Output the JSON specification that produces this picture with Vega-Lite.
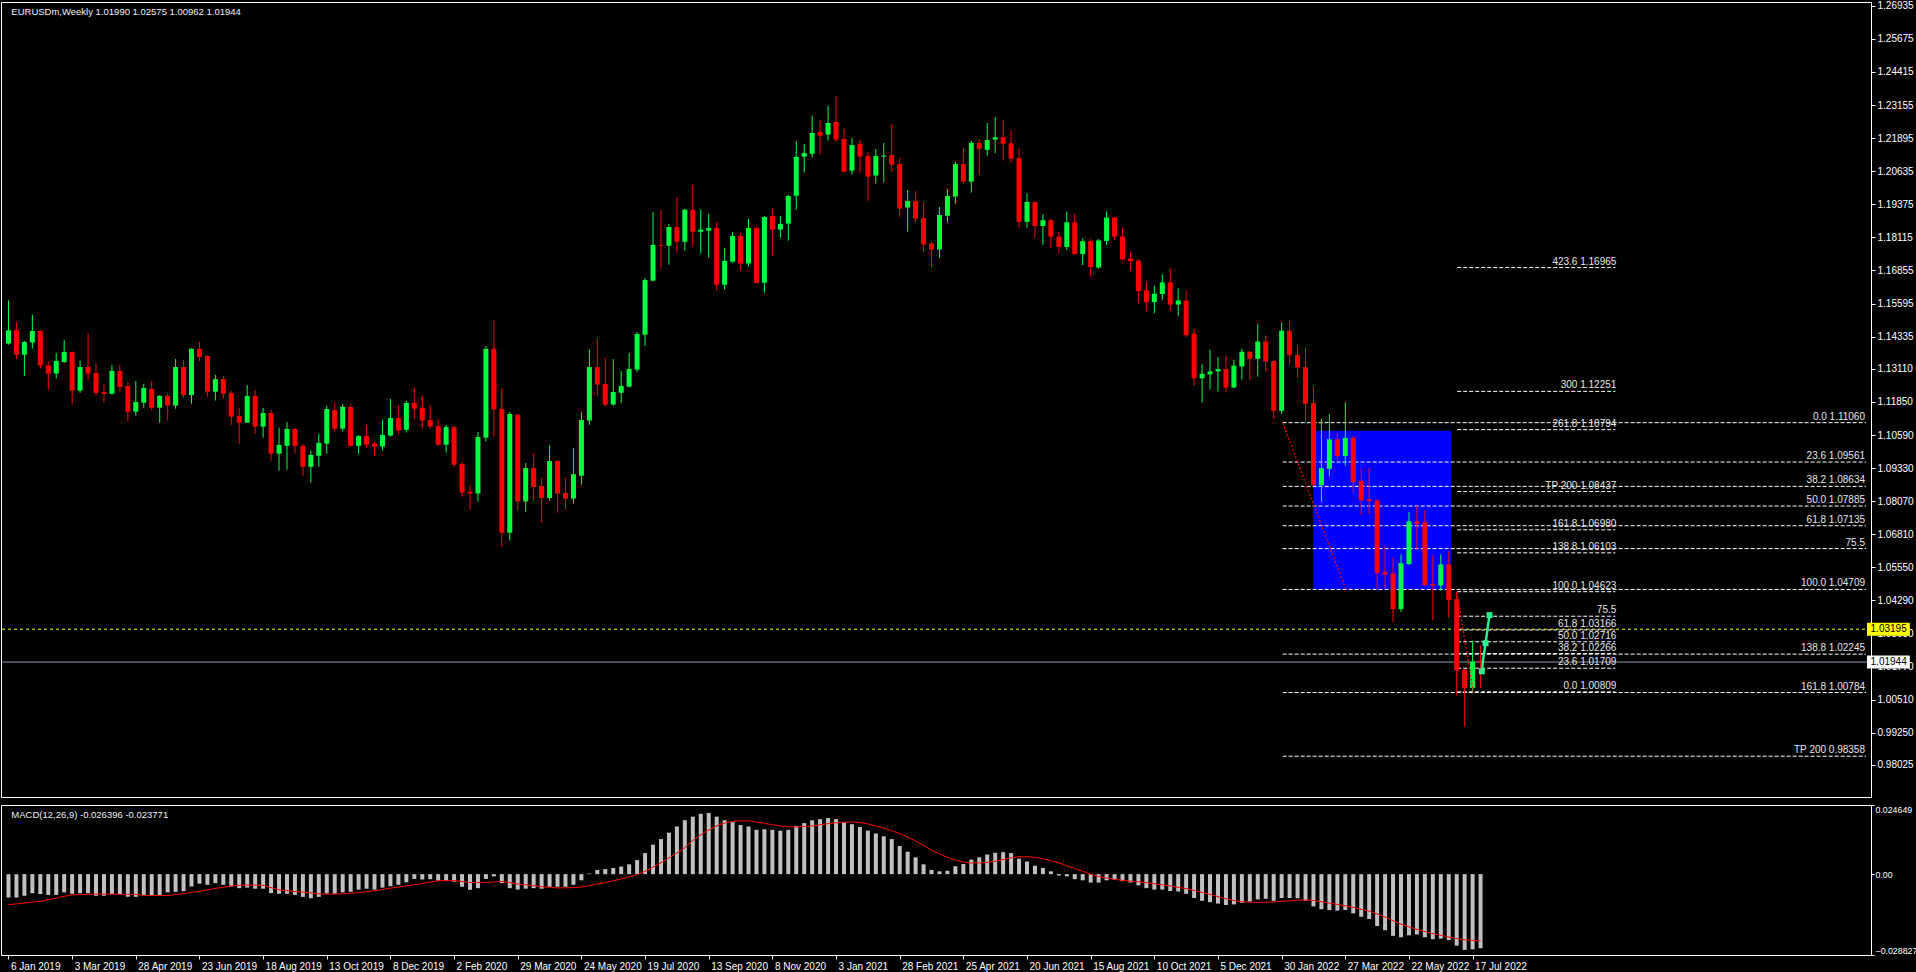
{
"$schema": "https://vega.github.io/schema/vega-lite/v6.json",
"background": "#000000",
"padding": 0,
"spacing": 6,
"datasets": {
"w": [
{"d":"2019-01-06","o":1.1407,"h":1.1572,"l":1.1403,"c":1.1458,"m":-0.0083,"s":-0.0109},
{"d":"2019-01-13","o":1.1458,"h":1.1489,"l":1.1350,"c":1.1365,"m":-0.0083,"s":-0.0106},
{"d":"2019-01-20","o":1.1365,"h":1.1417,"l":1.1284,"c":1.1413,"m":-0.0077,"s":-0.0103},
{"d":"2019-01-27","o":1.1411,"h":1.1517,"l":1.1388,"c":1.1455,"m":-0.0068,"s":-0.0100},
{"d":"2019-02-03","o":1.1455,"h":1.1458,"l":1.1312,"c":1.1324,"m":-0.0071,"s":-0.0097},
{"d":"2019-02-10","o":1.1324,"h":1.1341,"l":1.1232,"c":1.1293,"m":-0.0074,"s":-0.0091},
{"d":"2019-02-17","o":1.1293,"h":1.1371,"l":1.1274,"c":1.1341,"m":-0.0074,"s":-0.0085},
{"d":"2019-02-24","o":1.1337,"h":1.1420,"l":1.1333,"c":1.1375,"m":-0.0065,"s":-0.0079},
{"d":"2019-03-03","o":1.1375,"h":1.1378,"l":1.1175,"c":1.1228,"m":-0.0070,"s":-0.0074},
{"d":"2019-03-10","o":1.1228,"h":1.1343,"l":1.1220,"c":1.1318,"m":-0.0068,"s":-0.0073},
{"d":"2019-03-17","o":1.1318,"h":1.1447,"l":1.1270,"c":1.1293,"m":-0.0068,"s":-0.0072},
{"d":"2019-03-24","o":1.1295,"h":1.1333,"l":1.1209,"c":1.1220,"m":-0.0077,"s":-0.0071},
{"d":"2019-03-31","o":1.1223,"h":1.1253,"l":1.1182,"c":1.1216,"m":-0.0077,"s":-0.0071},
{"d":"2019-04-07","o":1.1216,"h":1.1326,"l":1.1213,"c":1.1303,"m":-0.0071,"s":-0.0071},
{"d":"2019-04-14","o":1.1303,"h":1.1326,"l":1.1224,"c":1.1242,"m":-0.0071,"s":-0.0072},
{"d":"2019-04-21","o":1.1246,"h":1.1261,"l":1.1110,"c":1.1148,"m":-0.0081,"s":-0.0072},
{"d":"2019-04-28","o":1.1148,"h":1.1265,"l":1.1133,"c":1.1185,"m":-0.0081,"s":-0.0072},
{"d":"2019-05-05","o":1.1182,"h":1.1253,"l":1.1163,"c":1.1238,"m":-0.0074,"s":-0.0076},
{"d":"2019-05-12","o":1.1234,"h":1.1265,"l":1.1152,"c":1.1163,"m":-0.0077,"s":-0.0076},
{"d":"2019-05-19","o":1.1163,"h":1.1211,"l":1.1106,"c":1.1208,"m":-0.0075,"s":-0.0076},
{"d":"2019-05-26","o":1.1208,"h":1.1215,"l":1.1114,"c":1.1171,"m":-0.0065,"s":-0.0076},
{"d":"2019-06-02","o":1.1171,"h":1.1348,"l":1.1159,"c":1.1318,"m":-0.0063,"s":-0.0073},
{"d":"2019-06-09","o":1.1318,"h":1.1345,"l":1.1201,"c":1.1211,"m":-0.0061,"s":-0.0070},
{"d":"2019-06-16","o":1.1211,"h":1.1390,"l":1.1178,"c":1.1387,"m":-0.0044,"s":-0.0065},
{"d":"2019-06-23","o":1.1387,"h":1.1413,"l":1.1341,"c":1.1356,"m":-0.0034,"s":-0.0061},
{"d":"2019-06-30","o":1.1360,"h":1.1364,"l":1.1205,"c":1.1224,"m":-0.0038,"s":-0.0056},
{"d":"2019-07-07","o":1.1224,"h":1.1288,"l":1.1190,"c":1.1272,"m":-0.0032,"s":-0.0051},
{"d":"2019-07-14","o":1.1272,"h":1.1284,"l":1.1197,"c":1.1216,"m":-0.0038,"s":-0.0047},
{"d":"2019-07-21","o":1.1219,"h":1.1227,"l":1.1098,"c":1.1129,"m":-0.0044,"s":-0.0042},
{"d":"2019-07-28","o":1.1131,"h":1.1162,"l":1.1026,"c":1.1106,"m":-0.0050,"s":-0.0040},
{"d":"2019-08-04","o":1.1106,"h":1.1249,"l":1.1105,"c":1.1208,"m":-0.0048,"s":-0.0039},
{"d":"2019-08-11","o":1.1208,"h":1.1230,"l":1.1064,"c":1.1091,"m":-0.0052,"s":-0.0039},
{"d":"2019-08-18","o":1.1091,"h":1.1162,"l":1.1049,"c":1.1143,"m":-0.0052,"s":-0.0040},
{"d":"2019-08-25","o":1.1143,"h":1.1154,"l":1.0961,"c":1.0988,"m":-0.0068,"s":-0.0048},
{"d":"2019-09-01","o":1.0988,"h":1.1087,"l":1.0923,"c":1.1021,"m":-0.0070,"s":-0.0056},
{"d":"2019-09-08","o":1.1018,"h":1.1109,"l":1.0927,"c":1.1082,"m":-0.0070,"s":-0.0059},
{"d":"2019-09-15","o":1.1082,"h":1.1087,"l":1.0988,"c":1.1018,"m":-0.0074,"s":-0.0062},
{"d":"2019-09-22","o":1.1018,"h":1.1025,"l":1.0904,"c":1.0938,"m":-0.0081,"s":-0.0064},
{"d":"2019-09-29","o":1.0938,"h":1.0999,"l":1.0878,"c":1.0983,"m":-0.0086,"s":-0.0067},
{"d":"2019-10-06","o":1.0980,"h":1.1063,"l":1.0938,"c":1.1029,"m":-0.0081,"s":-0.0070},
{"d":"2019-10-13","o":1.1026,"h":1.1170,"l":1.0988,"c":1.1158,"m":-0.0069,"s":-0.0071},
{"d":"2019-10-20","o":1.1154,"h":1.1181,"l":1.1072,"c":1.1083,"m":-0.0070,"s":-0.0071},
{"d":"2019-10-27","o":1.1083,"h":1.1177,"l":1.1072,"c":1.1166,"m":-0.0065,"s":-0.0070},
{"d":"2019-11-03","o":1.1166,"h":1.1177,"l":1.1015,"c":1.1018,"m":-0.0063,"s":-0.0068},
{"d":"2019-11-10","o":1.1018,"h":1.1059,"l":1.0988,"c":1.1055,"m":-0.0055,"s":-0.0066},
{"d":"2019-11-17","o":1.1055,"h":1.1097,"l":1.1011,"c":1.1022,"m":-0.0052,"s":-0.0063},
{"d":"2019-11-24","o":1.1026,"h":1.1034,"l":1.0980,"c":1.1015,"m":-0.0055,"s":-0.0059},
{"d":"2019-12-01","o":1.1015,"h":1.1116,"l":1.0999,"c":1.1059,"m":-0.0048,"s":-0.0055},
{"d":"2019-12-08","o":1.1057,"h":1.1196,"l":1.1053,"c":1.1124,"m":-0.0043,"s":-0.0050},
{"d":"2019-12-15","o":1.1124,"h":1.1173,"l":1.1064,"c":1.1076,"m":-0.0038,"s":-0.0046},
{"d":"2019-12-22","o":1.1079,"h":1.1189,"l":1.1068,"c":1.1181,"m":-0.0029,"s":-0.0042},
{"d":"2019-12-29","o":1.1181,"h":1.1238,"l":1.1121,"c":1.1159,"m":-0.0017,"s":-0.0038},
{"d":"2020-01-05","o":1.1162,"h":1.1208,"l":1.1083,"c":1.1114,"m":-0.0019,"s":-0.0033},
{"d":"2020-01-12","o":1.1116,"h":1.1173,"l":1.1083,"c":1.1091,"m":-0.0018,"s":-0.0028},
{"d":"2020-01-19","o":1.1093,"h":1.1120,"l":1.1018,"c":1.1022,"m":-0.0023,"s":-0.0024},
{"d":"2020-01-26","o":1.1022,"h":1.1097,"l":1.0992,"c":1.1089,"m":-0.0024,"s":-0.0023},
{"d":"2020-02-02","o":1.1089,"h":1.1092,"l":1.0938,"c":1.0946,"m":-0.0027,"s":-0.0023},
{"d":"2020-02-09","o":1.0949,"h":1.0956,"l":1.0824,"c":1.0840,"m":-0.0045,"s":-0.0026},
{"d":"2020-02-16","o":1.0843,"h":1.0866,"l":1.0775,"c":1.0836,"m":-0.0056,"s":-0.0030},
{"d":"2020-02-23","o":1.0836,"h":1.1070,"l":1.0805,"c":1.1051,"m":-0.0050,"s":-0.0030},
{"d":"2020-03-01","o":1.1049,"h":1.1398,"l":1.1034,"c":1.1387,"m":-0.0017,"s":-0.0030},
{"d":"2020-03-08","o":1.1387,"h":1.1497,"l":1.1053,"c":1.1156,"m":-0.0008,"s":-0.0028},
{"d":"2020-03-15","o":1.1159,"h":1.1238,"l":1.0633,"c":1.0687,"m":-0.0032,"s":-0.0026},
{"d":"2020-03-22","o":1.0687,"h":1.1147,"l":1.0657,"c":1.1139,"m":-0.0050,"s":-0.0030},
{"d":"2020-03-29","o":1.1136,"h":1.1140,"l":1.0771,"c":1.0806,"m":-0.0055,"s":-0.0035},
{"d":"2020-04-05","o":1.0806,"h":1.0952,"l":1.0766,"c":1.0933,"m":-0.0052,"s":-0.0038},
{"d":"2020-04-12","o":1.0933,"h":1.0990,"l":1.0809,"c":1.0861,"m":-0.0050,"s":-0.0041},
{"d":"2020-04-19","o":1.0865,"h":1.0895,"l":1.0725,"c":1.0819,"m":-0.0052,"s":-0.0045},
{"d":"2020-04-26","o":1.0819,"h":1.1021,"l":1.0809,"c":1.0960,"m":-0.0045,"s":-0.0047},
{"d":"2020-05-03","o":1.0960,"h":1.0963,"l":1.0763,"c":1.0836,"m":-0.0045,"s":-0.0049},
{"d":"2020-05-10","o":1.0838,"h":1.0895,"l":1.0775,"c":1.0817,"m":-0.0045,"s":-0.0049},
{"d":"2020-05-17","o":1.0817,"h":1.1010,"l":1.0798,"c":1.0910,"m":-0.0038,"s":-0.0048},
{"d":"2020-05-24","o":1.0904,"h":1.1147,"l":1.0870,"c":1.1116,"m":-0.0022,"s":-0.0046},
{"d":"2020-05-31","o":1.1114,"h":1.1384,"l":1.1098,"c":1.1318,"m":0.0002,"s":-0.0041},
{"d":"2020-06-07","o":1.1318,"h":1.1425,"l":1.1209,"c":1.1251,"m":0.0015,"s":-0.0035},
{"d":"2020-06-14","o":1.1253,"h":1.1352,"l":1.1167,"c":1.1175,"m":0.0018,"s":-0.0030},
{"d":"2020-06-21","o":1.1175,"h":1.1348,"l":1.1171,"c":1.1223,"m":0.0022,"s":-0.0024},
{"d":"2020-06-28","o":1.1220,"h":1.1303,"l":1.1182,"c":1.1246,"m":0.0027,"s":-0.0017},
{"d":"2020-07-05","o":1.1243,"h":1.1371,"l":1.1240,"c":1.1310,"m":0.0035,"s":-0.0010},
{"d":"2020-07-12","o":1.1308,"h":1.1451,"l":1.1299,"c":1.1444,"m":0.0050,"s":-0.0002},
{"d":"2020-07-19","o":1.1441,"h":1.1657,"l":1.1399,"c":1.1649,"m":0.0075,"s":0.0010},
{"d":"2020-07-26","o":1.1647,"h":1.1908,"l":1.1644,"c":1.1783,"m":0.0105,"s":0.0025},
{"d":"2020-08-02","o":1.1783,"h":1.1917,"l":1.1692,"c":1.1780,"m":0.0125,"s":0.0040},
{"d":"2020-08-09","o":1.1780,"h":1.1863,"l":1.1708,"c":1.1851,"m":0.0148,"s":0.0058},
{"d":"2020-08-16","o":1.1851,"h":1.1965,"l":1.1753,"c":1.1795,"m":0.0170,"s":0.0075},
{"d":"2020-08-23","o":1.1795,"h":1.1920,"l":1.1761,"c":1.1917,"m":0.0192,"s":0.0095},
{"d":"2020-08-30","o":1.1917,"h":1.2011,"l":1.1780,"c":1.1833,"m":0.0205,"s":0.0120},
{"d":"2020-09-06","o":1.1833,"h":1.1917,"l":1.1750,"c":1.1841,"m":0.0215,"s":0.0140},
{"d":"2020-09-13","o":1.1837,"h":1.1901,"l":1.1734,"c":1.1847,"m":0.0218,"s":0.0158},
{"d":"2020-09-20","o":1.1847,"h":1.1870,"l":1.1609,"c":1.1631,"m":0.0205,"s":0.0172},
{"d":"2020-09-27","o":1.1631,"h":1.1772,"l":1.1613,"c":1.1722,"m":0.0192,"s":0.0182},
{"d":"2020-10-04","o":1.1719,"h":1.1832,"l":1.1715,"c":1.1817,"m":0.0185,"s":0.0188},
{"d":"2020-10-11","o":1.1817,"h":1.1828,"l":1.1685,"c":1.1712,"m":0.0175,"s":0.0190},
{"d":"2020-10-18","o":1.1712,"h":1.1882,"l":1.1700,"c":1.1847,"m":0.0170,"s":0.0190},
{"d":"2020-10-25","o":1.1847,"h":1.1851,"l":1.1635,"c":1.1638,"m":0.0158,"s":0.0186},
{"d":"2020-11-01","o":1.1639,"h":1.1893,"l":1.1601,"c":1.1889,"m":0.0160,"s":0.0181},
{"d":"2020-11-08","o":1.1893,"h":1.1920,"l":1.1742,"c":1.1841,"m":0.0158,"s":0.0176},
{"d":"2020-11-15","o":1.1841,"h":1.1893,"l":1.1810,"c":1.1863,"m":0.0155,"s":0.0172},
{"d":"2020-11-22","o":1.1864,"h":1.1973,"l":1.1799,"c":1.1969,"m":0.0158,"s":0.0169},
{"d":"2020-11-29","o":1.1970,"h":1.2179,"l":1.1917,"c":1.2118,"m":0.0172,"s":0.0168},
{"d":"2020-12-06","o":1.2119,"h":1.2167,"l":1.2058,"c":1.2133,"m":0.0182,"s":0.0170},
{"d":"2020-12-13","o":1.2130,"h":1.2275,"l":1.2115,"c":1.2209,"m":0.0192,"s":0.0172},
{"d":"2020-12-20","o":1.2213,"h":1.2260,"l":1.2127,"c":1.2199,"m":0.0196,"s":0.0176},
{"d":"2020-12-27","o":1.2203,"h":1.2313,"l":1.2180,"c":1.2247,"m":0.0200,"s":0.0180},
{"d":"2021-01-03","o":1.2251,"h":1.2350,"l":1.2176,"c":1.2184,"m":0.0196,"s":0.0183},
{"d":"2021-01-10","o":1.2186,"h":1.2224,"l":1.2059,"c":1.2062,"m":0.0185,"s":0.0185},
{"d":"2021-01-17","o":1.2066,"h":1.2190,"l":1.2050,"c":1.2163,"m":0.0178,"s":0.0186},
{"d":"2021-01-24","o":1.2167,"h":1.2184,"l":1.2058,"c":1.2119,"m":0.0168,"s":0.0184},
{"d":"2021-01-31","o":1.2121,"h":1.2137,"l":1.1951,"c":1.2043,"m":0.0155,"s":0.0179},
{"d":"2021-02-07","o":1.2047,"h":1.2148,"l":1.2016,"c":1.2121,"m":0.0145,"s":0.0172},
{"d":"2021-02-14","o":1.2119,"h":1.2171,"l":1.2020,"c":1.2123,"m":0.0135,"s":0.0164},
{"d":"2021-02-21","o":1.2125,"h":1.2243,"l":1.2062,"c":1.2088,"m":0.0125,"s":0.0155},
{"d":"2021-02-28","o":1.2091,"h":1.2114,"l":1.1890,"c":1.1921,"m":0.0100,"s":0.0145},
{"d":"2021-03-07","o":1.1925,"h":1.1992,"l":1.1833,"c":1.1950,"m":0.0080,"s":0.0132},
{"d":"2021-03-14","o":1.1950,"h":1.1988,"l":1.1868,"c":1.1883,"m":0.0060,"s":0.0118},
{"d":"2021-03-21","o":1.1885,"h":1.1946,"l":1.1757,"c":1.1784,"m":0.0035,"s":0.0102},
{"d":"2021-03-28","o":1.1788,"h":1.1795,"l":1.1700,"c":1.1765,"m":0.0015,"s":0.0086},
{"d":"2021-04-04","o":1.1765,"h":1.1927,"l":1.1734,"c":1.1897,"m":0.0010,"s":0.0072},
{"d":"2021-04-11","o":1.1894,"h":1.1996,"l":1.1868,"c":1.1969,"m":0.0012,"s":0.0060},
{"d":"2021-04-18","o":1.1967,"h":1.2099,"l":1.1940,"c":1.2091,"m":0.0028,"s":0.0050},
{"d":"2021-04-25","o":1.2091,"h":1.2152,"l":1.2016,"c":1.2024,"m":0.0036,"s":0.0043},
{"d":"2021-05-02","o":1.2024,"h":1.2179,"l":1.1982,"c":1.2171,"m":0.0052,"s":0.0040},
{"d":"2021-05-09","o":1.2171,"h":1.2184,"l":1.2050,"c":1.2149,"m":0.0060,"s":0.0040},
{"d":"2021-05-16","o":1.2145,"h":1.2247,"l":1.2123,"c":1.2182,"m":0.0070,"s":0.0042},
{"d":"2021-05-23","o":1.2184,"h":1.2270,"l":1.2132,"c":1.2193,"m":0.0076,"s":0.0046},
{"d":"2021-05-30","o":1.2193,"h":1.2259,"l":1.2104,"c":1.2168,"m":0.0078,"s":0.0052},
{"d":"2021-06-06","o":1.2170,"h":1.2220,"l":1.2096,"c":1.2111,"m":0.0075,"s":0.0058},
{"d":"2021-06-13","o":1.2113,"h":1.2151,"l":1.1848,"c":1.1871,"m":0.0055,"s":0.0062},
{"d":"2021-06-20","o":1.1871,"h":1.1979,"l":1.1848,"c":1.1946,"m":0.0045,"s":0.0062},
{"d":"2021-06-27","o":1.1946,"h":1.1950,"l":1.1809,"c":1.1855,"m":0.0030,"s":0.0060},
{"d":"2021-07-04","o":1.1855,"h":1.1900,"l":1.1783,"c":1.1877,"m":0.0022,"s":0.0055},
{"d":"2021-07-11","o":1.1877,"h":1.1883,"l":1.1769,"c":1.1814,"m":0.0010,"s":0.0048},
{"d":"2021-07-18","o":1.1815,"h":1.1834,"l":1.1752,"c":1.1775,"m":-0.0005,"s":0.0040},
{"d":"2021-07-25","o":1.1775,"h":1.1910,"l":1.1763,"c":1.1869,"m":-0.0008,"s":0.0030},
{"d":"2021-08-01","o":1.1869,"h":1.1903,"l":1.1745,"c":1.1748,"m":-0.0018,"s":0.0020},
{"d":"2021-08-08","o":1.1748,"h":1.1808,"l":1.1706,"c":1.1797,"m":-0.0022,"s":0.0010},
{"d":"2021-08-15","o":1.1797,"h":1.1805,"l":1.1663,"c":1.1699,"m":-0.0030,"s":0.0000},
{"d":"2021-08-22","o":1.1697,"h":1.1805,"l":1.1692,"c":1.1800,"m":-0.0030,"s":-0.0008},
{"d":"2021-08-29","o":1.1798,"h":1.1910,"l":1.1783,"c":1.1887,"m":-0.0022,"s":-0.0014},
{"d":"2021-09-05","o":1.1887,"h":1.1890,"l":1.1801,"c":1.1814,"m":-0.0020,"s":-0.0018},
{"d":"2021-09-12","o":1.1815,"h":1.1849,"l":1.1723,"c":1.1728,"m":-0.0025,"s":-0.0022},
{"d":"2021-09-19","o":1.1731,"h":1.1758,"l":1.1683,"c":1.1722,"m":-0.0030,"s":-0.0025},
{"d":"2021-09-26","o":1.1723,"h":1.1728,"l":1.1561,"c":1.1607,"m":-0.0040,"s":-0.0027},
{"d":"2021-10-03","o":1.1610,"h":1.1643,"l":1.1530,"c":1.1565,"m":-0.0050,"s":-0.0030},
{"d":"2021-10-10","o":1.1565,"h":1.1628,"l":1.1522,"c":1.1597,"m":-0.0055,"s":-0.0034},
{"d":"2021-10-17","o":1.1596,"h":1.1670,"l":1.1573,"c":1.1640,"m":-0.0055,"s":-0.0038},
{"d":"2021-10-24","o":1.1640,"h":1.1693,"l":1.1534,"c":1.1556,"m":-0.0060,"s":-0.0042},
{"d":"2021-10-31","o":1.1556,"h":1.1617,"l":1.1511,"c":1.1571,"m":-0.0062,"s":-0.0047},
{"d":"2021-11-07","o":1.1571,"h":1.1610,"l":1.1432,"c":1.1439,"m":-0.0070,"s":-0.0052},
{"d":"2021-11-14","o":1.1445,"h":1.1464,"l":1.1247,"c":1.1275,"m":-0.0085,"s":-0.0058},
{"d":"2021-11-21","o":1.1275,"h":1.1330,"l":1.1183,"c":1.1292,"m":-0.0095,"s":-0.0065},
{"d":"2021-11-28","o":1.1290,"h":1.1384,"l":1.1232,"c":1.1301,"m":-0.0100,"s":-0.0072},
{"d":"2021-12-05","o":1.1301,"h":1.1356,"l":1.1224,"c":1.1310,"m":-0.0105,"s":-0.0080},
{"d":"2021-12-12","o":1.1310,"h":1.1362,"l":1.1221,"c":1.1240,"m":-0.0110,"s":-0.0088},
{"d":"2021-12-19","o":1.1240,"h":1.1346,"l":1.1237,"c":1.1323,"m":-0.0108,"s":-0.0094},
{"d":"2021-12-26","o":1.1320,"h":1.1388,"l":1.1270,"c":1.1376,"m":-0.0102,"s":-0.0098},
{"d":"2022-01-02","o":1.1376,"h":1.1379,"l":1.1270,"c":1.1349,"m":-0.0098,"s":-0.0100},
{"d":"2022-01-09","o":1.1349,"h":1.1482,"l":1.1281,"c":1.1415,"m":-0.0090,"s":-0.0101},
{"d":"2022-01-16","o":1.1415,"h":1.1438,"l":1.1301,"c":1.1339,"m":-0.0088,"s":-0.0100},
{"d":"2022-01-23","o":1.1341,"h":1.1344,"l":1.1120,"c":1.1151,"m":-0.0095,"s":-0.0099},
{"d":"2022-01-30","o":1.1151,"h":1.1487,"l":1.1138,"c":1.1456,"m":-0.0085,"s":-0.0097},
{"d":"2022-02-06","o":1.1456,"h":1.1498,"l":1.1326,"c":1.1363,"m":-0.0085,"s":-0.0095},
{"d":"2022-02-13","o":1.1364,"h":1.1401,"l":1.1277,"c":1.1316,"m":-0.0086,"s":-0.0093},
{"d":"2022-02-20","o":1.1318,"h":1.1392,"l":1.1108,"c":1.1178,"m":-0.0095,"s":-0.0092},
{"d":"2022-02-27","o":1.1181,"h":1.1246,"l":1.0865,"c":1.0868,"m":-0.0115,"s":-0.0094},
{"d":"2022-03-06","o":1.0868,"h":1.1120,"l":1.0804,"c":1.0933,"m":-0.0125,"s":-0.0098},
{"d":"2022-03-13","o":1.0930,"h":1.1138,"l":1.0901,"c":1.1043,"m":-0.0128,"s":-0.0103},
{"d":"2022-03-20","o":1.1043,"h":1.1069,"l":1.0956,"c":1.0979,"m":-0.0130,"s":-0.0108},
{"d":"2022-03-27","o":1.0979,"h":1.1184,"l":1.0942,"c":1.1048,"m":-0.0128,"s":-0.0113},
{"d":"2022-04-03","o":1.1048,"h":1.1057,"l":1.0835,"c":1.0879,"m":-0.0140,"s":-0.0118},
{"d":"2022-04-10","o":1.0884,"h":1.0933,"l":1.0755,"c":1.0810,"m":-0.0152,"s":-0.0125},
{"d":"2022-04-17","o":1.0815,"h":1.0933,"l":1.0758,"c":1.0807,"m":-0.0160,"s":-0.0132},
{"d":"2022-04-24","o":1.0810,"h":1.0813,"l":1.0471,"c":1.0534,"m":-0.0185,"s":-0.0142},
{"d":"2022-05-01","o":1.0537,"h":1.0638,"l":1.0477,"c":1.0528,"m":-0.0200,"s":-0.0153},
{"d":"2022-05-08","o":1.0532,"h":1.0592,"l":1.0347,"c":1.0396,"m":-0.0220,"s":-0.0166},
{"d":"2022-05-15","o":1.0396,"h":1.0604,"l":1.0385,"c":1.0571,"m":-0.0225,"s":-0.0178},
{"d":"2022-05-22","o":1.0568,"h":1.0766,"l":1.0563,"c":1.0730,"m":-0.0218,"s":-0.0188},
{"d":"2022-05-29","o":1.0730,"h":1.0789,"l":1.0620,"c":1.0721,"m":-0.0215,"s":-0.0197},
{"d":"2022-06-05","o":1.0727,"h":1.0773,"l":1.0483,"c":1.0488,"m":-0.0225,"s":-0.0205},
{"d":"2022-06-12","o":1.0492,"h":1.0601,"l":1.0354,"c":1.0486,"m":-0.0232,"s":-0.0212},
{"d":"2022-06-19","o":1.0486,"h":1.0604,"l":1.0466,"c":1.0566,"m":-0.0230,"s":-0.0218},
{"d":"2022-06-26","o":1.0566,"h":1.0617,"l":1.0363,"c":1.0430,"m":-0.0235,"s":-0.0224},
{"d":"2022-07-03","o":1.0434,"h":1.0462,"l":1.0067,"c":1.0162,"m":-0.0255,"s":-0.0230},
{"d":"2022-07-10","o":1.0165,"h":1.0168,"l":0.9949,"c":1.0095,"m":-0.0270,"s":-0.0234},
{"d":"2022-07-17","o":1.0095,"h":1.0274,"l":1.0083,"c":1.0196,"m":-0.0268,"s":-0.0236},
{"d":"2022-07-24","o":1.0199,"h":1.02575,"l":1.00962,"c":1.01944,"m":-0.026396,"s":-0.023771}
],
"fibA": [
{"p":1.11060,"t":"0.0 1.11060"},{"p":1.09561,"t":"23.6 1.09561"},{"p":1.08634,"t":"38.2 1.08634"},{"p":1.07885,"t":"50.0 1.07885"},{"p":1.07135,"t":"61.8 1.07135"},{"p":1.06265,"t":"75.5"},{"p":1.04709,"t":"100.0 1.04709"},{"p":1.02245,"t":"138.8 1.02245"},{"p":1.00784,"t":"161.8 1.00784"},{"p":0.98358,"t":"TP 200 0.98358"}
],
"fibB": [
{"p":1.00809,"t":"0.0 1.00809"},{"p":1.01709,"t":"23.6 1.01709"},{"p":1.02266,"t":"38.2 1.02266"},{"p":1.02716,"t":"50.0 1.02716"},{"p":1.03166,"t":"61.8 1.03166"},{"p":1.03689,"t":"75.5"},{"p":1.04623,"t":"100.0 1.04623"},{"p":1.06103,"t":"138.8 1.06103"},{"p":1.06980,"t":"161.8 1.06980"},{"p":1.08437,"t":"TP 200 1.08437"},{"p":1.10794,"t":"261.8 1.10794"},{"p":1.12251,"t":"300 1.12251"},{"p":1.16965,"t":"423.6 1.16965"}
],
"dots": [
{"d":"2022-01-30T21:00:00Z","p":1.1106,"g":"A"},{"d":"2022-03-27T12:00:00Z","p":1.0471,"g":"A"},
{"d":"2022-07-03T06:00:00Z","p":1.04623,"g":"B"},{"d":"2022-07-17T12:00:00Z","p":1.00809,"g":"B"}
],
"ind": [
{"d":"2022-07-25T03:00:00Z","p":1.0159,"k":1},{"d":"2022-07-26T06:00:00Z","p":1.0205,"k":0},{"d":"2022-07-27T12:00:00Z","p":1.0240,"k":0},{"d":"2022-07-28T09:00:00Z","p":1.0266,"k":1},{"d":"2022-07-29T12:00:00Z","p":1.0300,"k":0},{"d":"2022-07-30T09:00:00Z","p":1.0330,"k":0},{"d":"2022-07-31T21:00:00Z","p":1.0373,"k":1}
]
},
"vconcat": [
{
"width": 1870,
"height": 795,
"layer": [
{"data":{"values":[{"a":"2022-02-27","b":"2022-06-28","lo":1.04709,"hi":1.1075}]},
 "mark":{"type":"rect","color":"#0000ff"},
 "encoding":{
  "x":{"field":"a","type":"temporal","scale":{"type":"utc","domain":[{"year":2019,"month":1,"date":3,"hours":19,"minutes":30,"utc":true},{"year":2023,"month":6,"date":28,"hours":1,"minutes":30,"utc":true}]},"axis":null},
  "x2":{"field":"b"},
  "y":{"field":"lo","type":"quantitative","scale":{"domain":[0.96805,1.27079],"nice":false,"zero":false},
   "axis":{"orient":"right","title":null,"values":[1.26935,1.25675,1.24415,1.23155,1.21895,1.20635,1.19375,1.18115,1.16855,1.15595,1.14335,1.13110,1.11850,1.10590,1.09330,1.08070,1.06810,1.05550,1.04290,1.03030,1.01770,1.00510,0.99250,0.98025,0.96765],"tickCount":40,"format":".5f","tickSize":4,"labelPadding":2,"labelOverlap":false,"labelFlush":false,"labelBound":false,"grid":false,"domain":true}},
  "y2":{"field":"hi"}}},
{"data":{"values":[{"p":1.03195}]},
 "mark":{"type":"rule","color":"#ffff00","strokeDash":[3,3],"strokeWidth":1},
 "encoding":{"y":{"field":"p","type":"quantitative","scale":{"domain":[0.96805,1.27079],"nice":false,"zero":false}}}},
{"data":{"values":[{"p":1.01944}]},
 "mark":{"type":"rule","color":"#8a99aa","strokeWidth":1},
 "encoding":{"y":{"field":"p","type":"quantitative","scale":{"domain":[0.96805,1.27079],"nice":false,"zero":false}}}},
{"data":{"name":"fibA"},
 "mark":{"type":"rule","color":"#ffffff","strokeDash":[4,2],"strokeWidth":1},
 "encoding":{
  "x":{"datum":{"year":2022,"month":1,"date":30,"hours":21,"utc":true},"type":"temporal","scale":{"type":"utc","domain":[{"year":2019,"month":1,"date":3,"hours":19,"minutes":30,"utc":true},{"year":2023,"month":6,"date":28,"hours":1,"minutes":30,"utc":true}]},"axis":null},
  "x2":{"datum":{"year":2023,"month":6,"date":28,"hours":1,"minutes":30,"utc":true}},
  "y":{"field":"p","type":"quantitative","scale":{"domain":[0.96805,1.27079],"nice":false,"zero":false}}}},
{"data":{"name":"fibB"},
 "mark":{"type":"rule","color":"#ffffff","strokeDash":[4,2],"strokeWidth":1},
 "encoding":{
  "x":{"datum":{"year":2022,"month":7,"date":3,"hours":10,"minutes":30,"utc":true},"type":"temporal","scale":{"type":"utc","domain":[{"year":2019,"month":1,"date":3,"hours":19,"minutes":30,"utc":true},{"year":2023,"month":6,"date":28,"hours":1,"minutes":30,"utc":true}]},"axis":null},
  "x2":{"datum":{"year":2022,"month":11,"date":19,"hours":14,"utc":true}},
  "y":{"field":"p","type":"quantitative","scale":{"domain":[0.96805,1.27079],"nice":false,"zero":false}}}},
{"data":{"name":"fibA"},
 "mark":{"type":"text","color":"#e6e6e6","font":"Liberation Sans","fontSize":10,"align":"right","baseline":"alphabetic","dy":-3},
 "encoding":{
  "x":{"datum":{"year":2023,"month":6,"date":27,"hours":4,"minutes":30,"utc":true},"type":"temporal","scale":{"type":"utc","domain":[{"year":2019,"month":1,"date":3,"hours":19,"minutes":30,"utc":true},{"year":2023,"month":6,"date":28,"hours":1,"minutes":30,"utc":true}]},"axis":null},
  "y":{"field":"p","type":"quantitative","scale":{"domain":[0.96805,1.27079],"nice":false,"zero":false}},
  "text":{"field":"t"}}},
{"data":{"name":"fibB"},
 "mark":{"type":"text","color":"#e6e6e6","font":"Liberation Sans","fontSize":10,"align":"right","baseline":"alphabetic","dy":-3},
 "encoding":{
  "x":{"datum":{"year":2022,"month":11,"date":20,"hours":10,"minutes":30,"utc":true},"type":"temporal","scale":{"type":"utc","domain":[{"year":2019,"month":1,"date":3,"hours":19,"minutes":30,"utc":true},{"year":2023,"month":6,"date":28,"hours":1,"minutes":30,"utc":true}]},"axis":null},
  "y":{"field":"p","type":"quantitative","scale":{"domain":[0.96805,1.27079],"nice":false,"zero":false}},
  "text":{"field":"t"}}},
{"data":{"name":"w"},
 "mark":{"type":"rule","strokeWidth":1},
 "encoding":{
  "x":{"field":"d","type":"temporal","scale":{"type":"utc","domain":[{"year":2019,"month":1,"date":3,"hours":19,"minutes":30,"utc":true},{"year":2023,"month":6,"date":28,"hours":1,"minutes":30,"utc":true}]},"axis":null},
  "y":{"field":"l","type":"quantitative","scale":{"domain":[0.96805,1.27079],"nice":false,"zero":false}},
  "y2":{"field":"h"},
  "color":{"condition":{"test":"datum.c >= datum.o","value":"#00ff41"},"value":"#ff0000"}}},
{"data":{"name":"w"},
 "mark":{"type":"bar","width":5},
 "encoding":{
  "x":{"field":"d","type":"temporal","scale":{"type":"utc","domain":[{"year":2019,"month":1,"date":3,"hours":19,"minutes":30,"utc":true},{"year":2023,"month":6,"date":28,"hours":1,"minutes":30,"utc":true}]},"axis":null},
  "y":{"field":"o","type":"quantitative","scale":{"domain":[0.96805,1.27079],"nice":false,"zero":false}},
  "y2":{"field":"c"},
  "color":{"condition":{"test":"datum.c >= datum.o","value":"#00ff41"},"value":"#ff0000"}}},
{"data":{"name":"dots"},
 "mark":{"type":"line","color":"#ff0000","strokeDash":[2,2],"strokeWidth":1.2},
 "encoding":{
  "x":{"field":"d","type":"temporal","scale":{"type":"utc","domain":[{"year":2019,"month":1,"date":3,"hours":19,"minutes":30,"utc":true},{"year":2023,"month":6,"date":28,"hours":1,"minutes":30,"utc":true}]},"axis":null},
  "y":{"field":"p","type":"quantitative","scale":{"domain":[0.96805,1.27079],"nice":false,"zero":false}},
  "detail":{"field":"g"}}},
{"data":{"name":"ind"},
 "mark":{"type":"line","color":"#2cf08c","strokeWidth":2.5},
 "encoding":{
  "x":{"field":"d","type":"temporal","scale":{"type":"utc","domain":[{"year":2019,"month":1,"date":3,"hours":19,"minutes":30,"utc":true},{"year":2023,"month":6,"date":28,"hours":1,"minutes":30,"utc":true}]},"axis":null},
  "y":{"field":"p","type":"quantitative","scale":{"domain":[0.96805,1.27079],"nice":false,"zero":false}}}},
{"data":{"name":"ind"},
 "transform":[{"filter":"datum.k == 1"}],
 "mark":{"type":"square","color":"#2cf08c","filled":true,"size":36,"opacity":1},
 "encoding":{
  "x":{"field":"d","type":"temporal","scale":{"type":"utc","domain":[{"year":2019,"month":1,"date":3,"hours":19,"minutes":30,"utc":true},{"year":2023,"month":6,"date":28,"hours":1,"minutes":30,"utc":true}]},"axis":null},
  "y":{"field":"p","type":"quantitative","scale":{"domain":[0.96805,1.27079],"nice":false,"zero":false}}}},
{"data":{"values":[{}]},
 "mark":{"type":"text","color":"#f0f0f0","font":"Liberation Sans","fontSize":9.5,"align":"left","baseline":"middle"},
 "encoding":{
  "x":{"datum":{"year":2019,"month":1,"date":8,"hours":12,"utc":true},"type":"temporal","scale":{"type":"utc","domain":[{"year":2019,"month":1,"date":3,"hours":19,"minutes":30,"utc":true},{"year":2023,"month":6,"date":28,"hours":1,"minutes":30,"utc":true}]},"axis":null},
  "y":{"datum":1.2668,"type":"quantitative","scale":{"domain":[0.96805,1.27079],"nice":false,"zero":false}},
  "text":{"value":"EURUSDm,Weekly  1.01990 1.02575 1.00962 1.01944"}}},
{"data":{"values":[{}]},
 "mark":{"type":"rect","color":"#ffff00"},
 "encoding":{
  "x":{"datum":{"year":2023,"month":6,"date":28,"hours":22,"minutes":30,"utc":true},"type":"temporal","scale":{"type":"utc","domain":[{"year":2019,"month":1,"date":3,"hours":19,"minutes":30,"utc":true},{"year":2023,"month":6,"date":28,"hours":1,"minutes":30,"utc":true}]},"axis":null},
  "x2":{"datum":{"year":2023,"month":8,"date":5,"hours":13,"minutes":30,"utc":true}},
  "y":{"datum":1.02947,"type":"quantitative","scale":{"domain":[0.96805,1.27079],"nice":false,"zero":false}},
  "y2":{"datum":1.03443}}},
{"data":{"values":[{}]},
 "mark":{"type":"rect","color":"#ffffff"},
 "encoding":{
  "x":{"datum":{"year":2023,"month":6,"date":28,"hours":22,"minutes":30,"utc":true},"type":"temporal","scale":{"type":"utc","domain":[{"year":2019,"month":1,"date":3,"hours":19,"minutes":30,"utc":true},{"year":2023,"month":6,"date":28,"hours":1,"minutes":30,"utc":true}]},"axis":null},
  "x2":{"datum":{"year":2023,"month":8,"date":5,"hours":13,"minutes":30,"utc":true}},
  "y":{"datum":1.01696,"type":"quantitative","scale":{"domain":[0.96805,1.27079],"nice":false,"zero":false}},
  "y2":{"datum":1.02192}}},
{"data":{"values":[{"p":1.03195,"t":"1.03195"},{"p":1.01944,"t":"1.01944"}]},
 "mark":{"type":"text","color":"#000000","font":"Liberation Sans","fontSize":10,"align":"left","baseline":"middle"},
 "encoding":{
  "x":{"datum":{"year":2023,"month":7,"date":2,"hours":1,"minutes":30,"utc":true},"type":"temporal","scale":{"type":"utc","domain":[{"year":2019,"month":1,"date":3,"hours":19,"minutes":30,"utc":true},{"year":2023,"month":6,"date":28,"hours":1,"minutes":30,"utc":true}]},"axis":null},
  "y":{"field":"p","type":"quantitative","scale":{"domain":[0.96805,1.27079],"nice":false,"zero":false}},
  "text":{"field":"t"}}}
]
},
{
"width": 1870,
"height": 150,
"layer": [
{"data":{"name":"w"},
 "mark":{"type":"bar","width":4,"color":"#c0c0c0"},
 "encoding":{
  "x":{"field":"d","type":"temporal","scale":{"type":"utc","domain":[{"year":2019,"month":1,"date":3,"hours":19,"minutes":30,"utc":true},{"year":2023,"month":6,"date":28,"hours":1,"minutes":30,"utc":true}]},
   "axis":{"orient":"bottom","title":null,"format":"%-d %b %Y","labelAlign":"left","labelOffset":2,"labelPadding":2,"tickSize":4,"tickCount":40,"labelOverlap":false,"labelFlush":false,"grid":false,
    "values":[{"year":2019,"month":1,"date":6,"utc":true},{"year":2019,"month":3,"date":3,"utc":true},{"year":2019,"month":4,"date":28,"utc":true},{"year":2019,"month":6,"date":23,"utc":true},{"year":2019,"month":8,"date":18,"utc":true},{"year":2019,"month":10,"date":13,"utc":true},{"year":2019,"month":12,"date":8,"utc":true},{"year":2020,"month":2,"date":2,"utc":true},{"year":2020,"month":3,"date":29,"utc":true},{"year":2020,"month":5,"date":24,"utc":true},{"year":2020,"month":7,"date":19,"utc":true},{"year":2020,"month":9,"date":13,"utc":true},{"year":2020,"month":11,"date":8,"utc":true},{"year":2021,"month":1,"date":3,"utc":true},{"year":2021,"month":2,"date":28,"utc":true},{"year":2021,"month":4,"date":25,"utc":true},{"year":2021,"month":6,"date":20,"utc":true},{"year":2021,"month":8,"date":15,"utc":true},{"year":2021,"month":10,"date":10,"utc":true},{"year":2021,"month":12,"date":5,"utc":true},{"year":2022,"month":1,"date":30,"utc":true},{"year":2022,"month":3,"date":27,"utc":true},{"year":2022,"month":5,"date":22,"utc":true},{"year":2022,"month":7,"date":17,"utc":true}]}},
  "y":{"field":"m","type":"quantitative","scale":{"domain":[-0.028827,0.024649],"nice":false,"zero":false},
   "axis":{"orient":"right","title":null,"values":[-0.028827,0,0.024649],"labelExpr":"datum.value == 0 ? '0.00' : format(datum.value, '.6f')","labelFlush":true,"labelFontSize":8.8,"tickSize":3,"labelPadding":1,"labelOverlap":false,"grid":false}},
  "y2":{"datum":0}}},
{"data":{"name":"w"},
 "mark":{"type":"line","color":"#ff0000","strokeWidth":1},
 "encoding":{
  "x":{"field":"d","type":"temporal","scale":{"type":"utc","domain":[{"year":2019,"month":1,"date":3,"hours":19,"minutes":30,"utc":true},{"year":2023,"month":6,"date":28,"hours":1,"minutes":30,"utc":true}]}},
  "y":{"field":"s","type":"quantitative","scale":{"domain":[-0.028827,0.024649],"nice":false,"zero":false}}}},
{"data":{"values":[{}]},
 "mark":{"type":"text","color":"#f0f0f0","font":"Liberation Sans","fontSize":9.5,"align":"left","baseline":"middle"},
 "encoding":{
  "x":{"datum":{"year":2019,"month":1,"date":8,"hours":12,"utc":true},"type":"temporal","scale":{"type":"utc","domain":[{"year":2019,"month":1,"date":3,"hours":19,"minutes":30,"utc":true},{"year":2023,"month":6,"date":28,"hours":1,"minutes":30,"utc":true}]}},
  "y":{"datum":0.021084,"type":"quantitative","scale":{"domain":[-0.028827,0.024649],"nice":false,"zero":false}},
  "text":{"value":"MACD(12,26,9) -0.026396 -0.023771"}}}
]
}
],
"config": {
 "view": {"stroke": "#ffffff", "strokeWidth": 1},
 "axis": {"labelFont": "Liberation Sans", "labelFontSize": 10, "labelColor": "#ffffff", "domainColor": "#ffffff", "tickColor": "#ffffff", "grid": false, "labelOverlap": false, "labelBound": false},
 "text": {"font": "Liberation Sans"}
}
}
